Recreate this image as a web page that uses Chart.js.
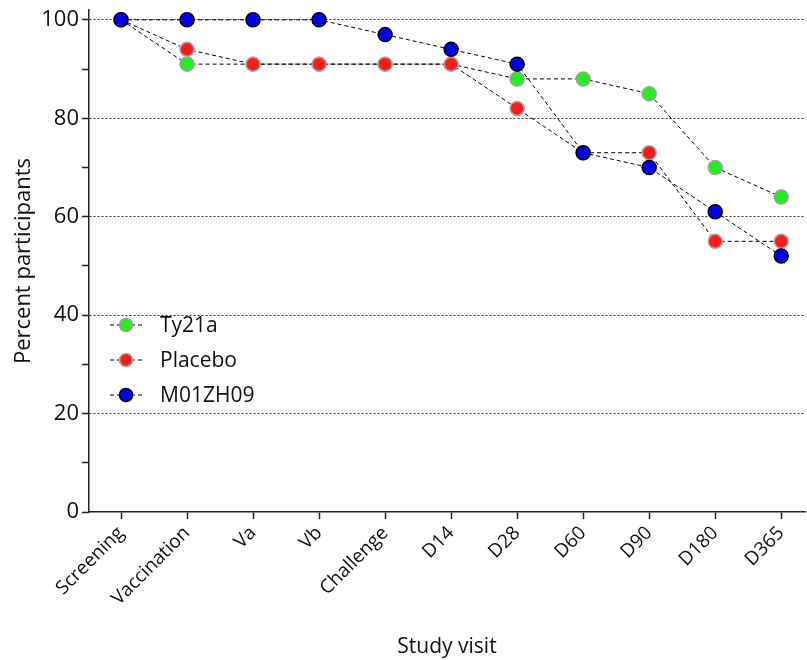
<!DOCTYPE html>
<html>
<head>
<meta charset="utf-8">
<script src="https://cdn.jsdelivr.net/npm/chart.js@4/dist/chart.umd.min.js"></script>
<style>
html,body{margin:0;padding:0;background:#fff;}
#wrap{width:807px;height:660px;}
</style>
</head>
<body>
<div id="wrap"><canvas id="c" width="807" height="660"></canvas></div>
<script>
const categories = ["Screening","Vaccination","Va","Vb","Challenge","D14","D28","D60","D90","D180","D365"];
const ty21a   = [100, 91, 91, 91, 91, 91, 88, 88, 85, 70, 64];
const placebo = [100, 94, 91, 91, 91, 91, 82, 73, 73, 55, 55];
const m01zh09 = [100,100,100,100, 97, 94, 91, 73, 70, 61, 52];
const seriesNames = ["Ty21a","Placebo","M01ZH09"];
const yTickLabels = [0,20,40,60,80,100];

const FONT = "'Open Sans', 'DejaVu Sans', sans-serif";
const toPts = arr => arr.map((v,i)=>({x:i,y:v}));

function ds(name, data, fill, border, order){
  return {
    label:name, data:toPts(data), order:order,
    borderColor:'#000', borderWidth:1, borderDash:[4,3], tension:0,
    pointRadius:7, pointHoverRadius:7, pointBackgroundColor:fill,
    pointBorderColor:border, pointBorderWidth:1.5, showLine:true
  };
}

const legendPlugin = {
  id:'insideLegend',
  afterDraw(chart){
    const ctx = chart.ctx;
    const ys = [325, 360, 395];
    chart.data.datasets.forEach((d,i)=>{
      const y = ys[i];
      ctx.save();
      ctx.strokeStyle = '#000'; ctx.lineWidth = 1; ctx.setLineDash([4,3]);
      ctx.beginPath(); ctx.moveTo(110,y); ctx.lineTo(143,y); ctx.stroke();
      ctx.setLineDash([]);
      ctx.beginPath(); ctx.arc(126,y,6.5,0,Math.PI*2);
      ctx.fillStyle = d.pointBackgroundColor; ctx.fill();
      ctx.strokeStyle = d.pointBorderColor; ctx.lineWidth = 1.5; ctx.stroke();
      ctx.fillStyle = '#111'; ctx.font = "21px " + FONT;
      ctx.textBaseline = 'middle'; ctx.textAlign = 'left';
      ctx.fillText(d.label, 160, y+1);
      ctx.restore();
    });
  }
};

new Chart(document.getElementById('c'), {
  type:'line',
  data:{ datasets:[
    ds(seriesNames[0], ty21a, '#22ee22', '#a0a0a0', 3),
    ds(seriesNames[1], placebo, '#ff1a1a', '#a8a8a8', 2),
    ds(seriesNames[2], m01zh09, '#0000ee', '#000000', 1)
  ]},
  options:{
    responsive:false, animation:false, maintainAspectRatio:false,
    layout:{autoPadding:false, padding:{left:0,right:2,top:10,bottom:0}},
    plugins:{legend:{display:false}, tooltip:{enabled:false}},
    scales:{
      x:{
        type:'linear', min:-0.485, max:10.36,
        afterFit(s){ s.height = 148; s.paddingLeft = 0; s.paddingRight = 0; },
        border:{display:true,color:'#222',width:1.5},
        grid:{drawOnChartArea:false, drawTicks:true, tickLength:7, tickColor:'#222', tickWidth:1.5},
        ticks:{stepSize:1, includeBounds:false, autoSkip:false, maxRotation:45, minRotation:45,
          color:'#111', font:{family:FONT,size:19}, padding:3,
          callback:v => Number.isInteger(v) ? categories[v] : ''},
        title:{display:true, text:'Study visit', color:'#111', font:{family:FONT,size:21}, padding:{top:0,bottom:0}}
      },
      y:{
        min:0, max:102,
        afterFit(s){ s.width = 89; s.paddingTop = 0; s.paddingBottom = 0; },
        border:{display:true,color:'#222',width:1.5, dash:[2,2]},
        grid:{
          drawOnChartArea:true, drawTicks:true, tickLength:7, tickWidth:1.5, tickColor:'#222', tickBorderDash:[],
          color:c => (c.tick && c.tick.value%20===0 && c.tick.value>0) ? '#333' : 'rgba(0,0,0,0)',
          lineWidth:1
        },
        ticks:{stepSize:10, includeBounds:false, color:'#111', font:{family:FONT,size:22}, padding:3,
          callback:v => yTickLabels.includes(v) ? String(v) : ''},
        title:{display:true, text:'Percent participants', color:'#111', font:{family:FONT,size:22}, padding:{top:11,bottom:0}}
      }
    }
  },
  plugins:[legendPlugin]
});
</script>
</body>
</html>
